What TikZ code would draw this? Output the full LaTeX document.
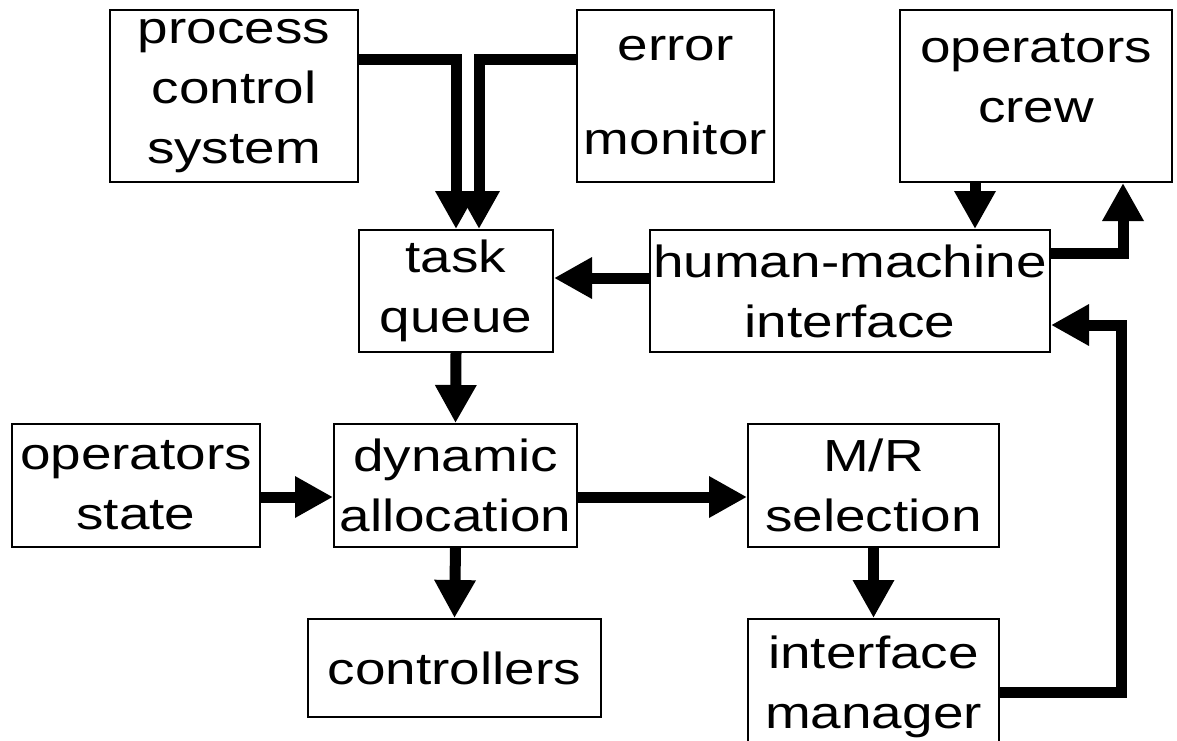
\documentclass[tikz,border=0pt]{standalone}
\usepackage{fontspec}
\setmainfont{Liberation Sans}[FakeStretch=1.22]
\usetikzlibrary{arrows.meta}

\begin{document}
\begin{tikzpicture}[x=0.5pt,y=-0.5pt,
  blk/.style={draw, line width=1pt, inner sep=0pt, align=center,
    font=\fontsize{22.5pt}{30pt}\selectfont},
  conn/.style={line width=5.5pt, -{Triangle[length=19pt,width=19.5pt]}}]
\useasboundingbox[fill=white] (0,0) rectangle (1177,740);
% top row
\node[blk, minimum width=124pt, minimum height=86pt] (pcs) at (234,96) {process\\control\\system};
\node[blk, minimum width=98.5pt, minimum height=86pt] (errmon) at (675.5,96) {error\\[17pt]monitor};
\node[blk, minimum width=136pt, minimum height=86pt] (crew) at (1036,96) {operators\\crew\\[-12pt]\mbox{}};
% second row
\node[blk, minimum width=97pt, minimum height=61pt] (queue) at (456,291) {task\\queue};
\node[blk, minimum width=200pt, minimum height=61pt] (hmi) at (850,291) {human-machine\\interface};
% third row
\node[blk, minimum width=124pt, minimum height=61.5pt] (opstate) at (136,485.5) {operators\\state};
\node[blk, minimum width=121.5pt, minimum height=61.5pt] (alloc) at (455.5,485.5) {dynamic\\allocation};
\node[blk, minimum width=125.5pt, minimum height=61.5pt] (mrsel) at (873.5,485.5) {M/R\\selection};
% bottom row
\node[blk, minimum width=146.5pt, minimum height=49pt] (ctrl) at (454.5,668) {controllers};
\node[blk, minimum width=125.5pt, minimum height=68pt] (ifman) at (873.5,687) {interface\\manager};
% connectors
\draw[conn] (pcs.east |- 0,59) -| (queue.north);
\draw[conn] (errmon.west |- 0,59) -| ([xshift=11.5pt]queue.north);
\draw[conn] (crew.south -| 975,0) -- (hmi.north -| 975,0);
\draw[conn] (hmi.east |- 0,253) -| (1123,0 |- crew.south);
\draw[conn] (hmi.west |- 0,278) -- (queue.east |- 0,278);
\draw[conn] (queue.south) -- (alloc.north);
\draw[conn] (opstate.east |- 0,497) -- (alloc.west |- 0,497);
\draw[conn] (alloc.east |- 0,497) -- (mrsel.west |- 0,497);
\draw[conn] (alloc.south) -- (ctrl.north);
\draw[conn] (mrsel.south) -- (ifman.north);
\draw[conn] (ifman.east |- 0,692) -| (1121,325) -- (hmi.east |- 0,325);
\end{tikzpicture}
\end{document}
